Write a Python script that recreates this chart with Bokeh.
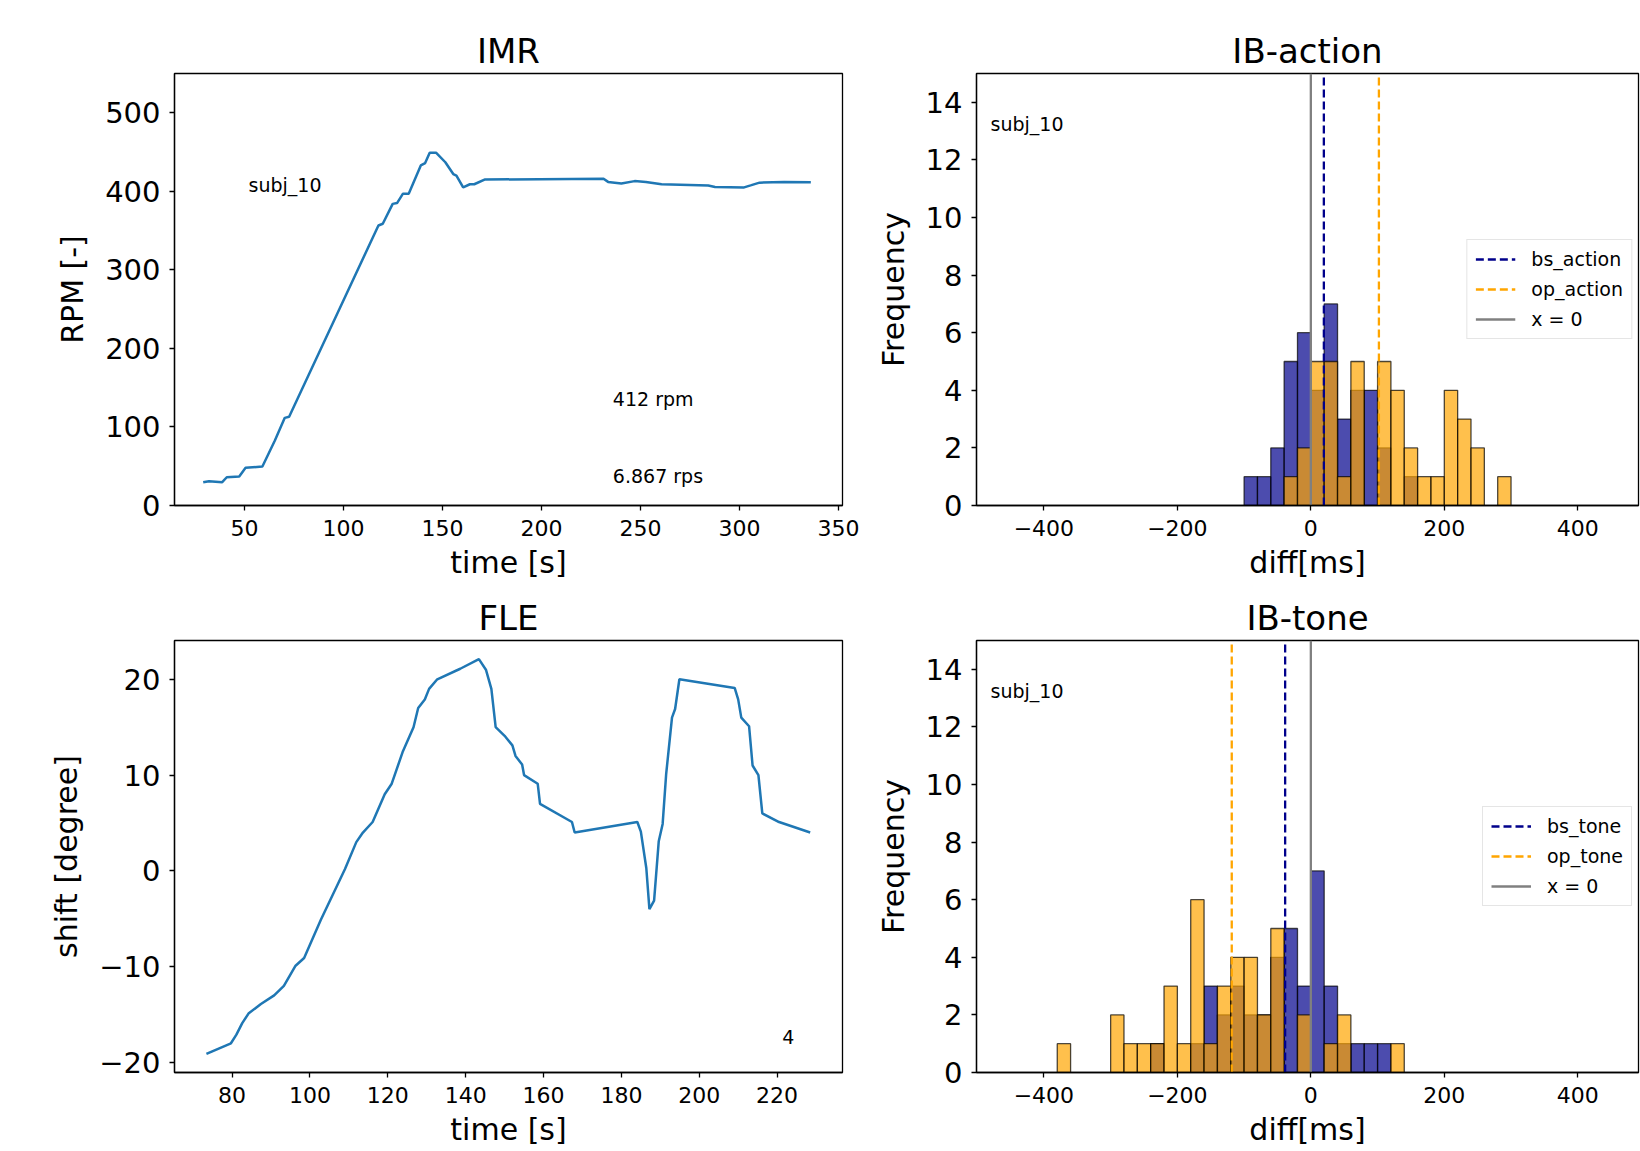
import numpy as np
from bokeh.plotting import figure
from bokeh.models import Legend, LegendItem, Label, FixedTicker, Range1d
from bokeh.layouts import column, row
from bokeh.embed import file_html
from bokeh.resources import INLINE

FONT = "DejaVu Sans"

# ---------------- data ----------------
imr_time = [29.1, 32.0, 38.7, 41.0, 47.3, 50.5, 59.0, 65.3, 70.3, 72.5, 117.6, 119.8, 124.8, 127.0,
            130.0, 132.9, 139.0, 141.2, 143.5, 146.8, 151.4, 155.4, 157.0, 160.4, 163.8, 166.0,
            171.2, 231.3, 233.6, 240.3, 247.0, 252.7, 260.6, 284.2, 287.6, 302.3, 305.6, 310.1,
            322.5, 336.0]
imr_rpm = [29.7, 31.0, 29.7, 36.0, 37.0, 48.0, 49.7, 82.8, 111.6, 113.0, 356.5, 358.7, 384.0, 385.0,
           397.0, 397.0, 433.0, 436.0, 449.0, 449.0, 437.0, 422.0, 420.0, 405.0, 409.0, 409.0,
           415.0, 416.0, 412.0, 410.0, 413.0, 412.0, 409.0, 407.5, 405.6, 405.0, 407.5, 411.0,
           412.0, 411.7]

fle_time = [73.4, 79.7, 81.1, 82.6, 84.2, 87.4, 90.8, 93.3, 96.3, 98.5, 102.8, 109.0, 111.9, 113.6,
            116.1, 119.2, 121.0, 123.8, 126.6, 127.8, 129.5, 130.6, 132.7, 138.6, 143.4, 145.2,
            146.6, 147.7, 150.0, 152.0, 152.8, 154.5, 155.0, 158.5, 159.1, 167.3, 168.0, 184.1,
            185.0, 186.4, 187.2, 188.4, 189.6, 190.6, 191.5, 193.0, 193.8, 194.9, 209.1, 210.0,
            210.8, 212.8, 213.7, 215.2, 216.2, 220.5, 228.5]
fle_shift = [-19.1, -18.0, -17.1, -15.9, -14.9, -13.9, -13.0, -12.0, -9.9, -9.1, -5.1, 0.2, 3.0, 4.0,
             5.1, 8.0, 9.1, 12.4, 15.0, 17.0, 17.9, 19.0, 20.0, 21.1, 22.1, 21.0,
             19.0, 15.0, 14.1, 13.1, 12.0, 11.1, 10.0, 9.1, 7.0, 5.1, 4.0, 5.1,
             4.1, 0.3, -4.0, -3.1, 3.1, 4.9, 10.1, 16.0, 16.9, 20.0, 19.1, 17.9,
             16.0, 15.1, 11.0, 10.0, 6.0, 5.1, 4.0]

action_bin_edges = [-100, -80, -60, -40, -20, 0, 20, 40, 60, 80, 100, 120, 140, 160, 180, 200,
                    220, 240, 260, 280, 300]
bs_action_counts = [1, 1, 2, 5, 6, 4, 7, 3, 4, 4, 2, 0, 1, 0, 0, 0, 0, 0, 0, 0]
op_action_counts = [0, 0, 0, 1, 2, 5, 5, 1, 5, 0, 5, 4, 2, 1, 1, 4, 3, 2, 0, 1]
bs_action_mean = 19.5
op_action_mean = 102.0

tone_bin_edges = [-380, -360, -340, -320, -300, -280, -260, -240, -220, -200, -180, -160, -140,
                  -120, -100, -80, -60, -40, -20, 0, 20, 40, 60, 80, 100, 120, 140]
op_tone_counts = [1, 0, 0, 0, 2, 1, 1, 1, 3, 1, 6, 1, 3, 4, 4, 2, 5, 0, 2, 0, 1, 2, 0, 0, 0, 1]
bs_tone_counts = [0, 0, 0, 0, 0, 0, 0, 1, 0, 0, 1, 3, 2, 3, 2, 2, 4, 5, 3, 7, 3, 1, 1, 1, 1, 0]
bs_tone_mean = -38.5
op_tone_mean = -118.5

zero_line = 0

imr_xticks = [50, 100, 150, 200, 250, 300, 350]
imr_yticks = [0, 100, 200, 300, 400, 500]
fle_xticks = [80, 100, 120, 140, 160, 180, 200, 220]
fle_yticks = [-20, -10, 0, 10, 20]
hist_xticks = [-400, -200, 0, 200, 400]
hist_yticks = [0, 2, 4, 6, 8, 10, 12, 14]
hist_xlim = (-501, 491)
hist_ylim = (0, 15)

subject = "subj_10"
rpm_text = "412 rpm"
rps_text = "6.867 rps"
fle_note = "4"

# ---------------- helpers ----------------
def lab(t):
    return ("\u2212" + str(abs(t))) if t < 0 else str(t)


def style(p, xlabel, ylabel, xticks, yticks):
    p.title.text_font = FONT
    p.title.text_font_size = "34px"
    p.title.text_font_style = "normal"
    p.title.align = "center"
    p.title.text_color = "black"
    p.title.standoff = 6
    p.xgrid.visible = False
    p.ygrid.visible = False
    p.outline_line_color = "black"
    p.outline_line_alpha = 1.0
    p.outline_line_width = 1.3
    p.xaxis.axis_label = xlabel
    p.yaxis.axis_label = ylabel
    for ax in (p.xaxis[0], p.yaxis[0]):
        ax.axis_label_text_font = FONT
        ax.axis_label_text_font_style = "normal"
        ax.axis_label_text_color = "black"
        ax.axis_label_text_font_size = "30px"
        ax.major_label_text_font = FONT
        ax.major_label_text_color = "black"
        ax.minor_tick_line_color = None
        ax.major_tick_in = 0
        ax.major_tick_out = 5
        ax.axis_line_color = "black"
        ax.axis_line_width = 1.3
        ax.major_tick_line_color = "black"
        ax.major_tick_line_width = 1.3
    p.xaxis.major_label_text_font_size = "22px"
    p.yaxis.major_label_text_font_size = "29px"
    p.xaxis.major_label_standoff = 9
    p.xaxis.axis_label_standoff = 6
    p.yaxis.major_label_standoff = 9
    p.yaxis.axis_label_standoff = 12
    p.xaxis.ticker = FixedTicker(ticks=xticks)
    p.yaxis.ticker = FixedTicker(ticks=yticks)
    p.xaxis.major_label_overrides = {t: lab(t) for t in xticks}
    p.yaxis.major_label_overrides = {t: lab(t) for t in yticks}


def note(p, x, y, text):
    p.add_layout(Label(x=x, y=y, text=text, text_font=FONT, text_font_size="19px",
                       text_color="black", text_baseline="alphabetic", text_align="left"))


def hist(p, edges, counts, color):
    e = np.array(edges, dtype=float)
    c = np.array(counts, dtype=float)
    m = c > 0
    p.quad(left=e[:-1][m], right=e[1:][m], bottom=0, top=c[m], fill_color=color,
           fill_alpha=0.7, line_color="black", line_alpha=0.7, line_width=1.3)


def vline(p, x, color, dash):
    return p.line(x=[x, x], y=list(hist_ylim), line_color=color, line_width=2.3, line_dash=dash)


def hist_fig(title, top_b, bot_b, height, edges, bs_counts, op_counts, bs_mean, op_mean, names):
    p = figure(width=775, height=height, output_backend="svg", toolbar_location=None,
               x_range=Range1d(*hist_xlim), y_range=Range1d(*hist_ylim), title=title,
               min_border_left=111, min_border_right=2, min_border_top=top_b,
               min_border_bottom=bot_b)
    style(p, "diff[ms]", "Frequency", hist_xticks, hist_yticks)
    hist(p, edges, bs_counts, "darkblue")
    hist(p, edges, op_counts, "orange")
    r1 = vline(p, bs_mean, "darkblue", "8 4")
    r2 = vline(p, op_mean, "orange", "8 4")
    r3 = vline(p, zero_line, "grey", "solid")
    leg = Legend(items=[LegendItem(label=names[0], renderers=[r1]),
                        LegendItem(label=names[1], renderers=[r2]),
                        LegendItem(label="x = 0", renderers=[r3])],
                 location="right")
    leg.label_text_font = FONT
    leg.label_text_font_size = "19px"
    leg.label_text_color = "black"
    leg.border_line_color = "#cccccc"
    leg.border_line_width = 1.3
    leg.background_fill_alpha = 0.8
    leg.glyph_width = 40
    leg.glyph_height = 22
    leg.label_height = 22
    leg.label_standoff = 16
    leg.padding = 8
    leg.spacing = 8
    leg.margin = 6
    p.add_layout(leg)
    note(p, -480, 13.25, subject)
    return p


# ---------------- figures ----------------
p1 = figure(width=865, height=582, output_backend="svg", toolbar_location=None,
            x_range=Range1d(14.6, 352), y_range=Range1d(0, 550), title="IMR",
            min_border_left=174, min_border_right=23, min_border_top=73, min_border_bottom=77)
style(p1, "time [s]", "RPM [-]", imr_xticks, imr_yticks)
p1.line(imr_time, imr_rpm, line_color="#1f77b4", line_width=2.5)
note(p1, 52, 408, subject)
note(p1, 236, 136, rpm_text)
note(p1, 236, 38, rps_text)

p2 = hist_fig("IB-action", 73, 77, 582, action_bin_edges, bs_action_counts, op_action_counts,
              bs_action_mean, op_action_mean, ["bs_action", "op_action"])

p3 = figure(width=865, height=568, output_backend="svg", toolbar_location=None,
            x_range=Range1d(65.2, 236.8), y_range=Range1d(-21.05, 24.05), title="FLE",
            min_border_left=174, min_border_right=23, min_border_top=58, min_border_bottom=78)
style(p3, "time [s]", "shift [degree]", fle_xticks, fle_yticks)
p3.line(fle_time, fle_shift, line_color="#1f77b4", line_width=2.5)
note(p3, 221.3, -17.35, fle_note)

p4 = hist_fig("IB-tone", 58, 78, 568, tone_bin_edges, bs_tone_counts, op_tone_counts,
              bs_tone_mean, op_tone_mean, ["bs_tone", "op_tone"])

layout = column(row(p1, p2), row(p3, p4))

with open("out.html", "w") as f:
    f.write(file_html(layout, INLINE))
